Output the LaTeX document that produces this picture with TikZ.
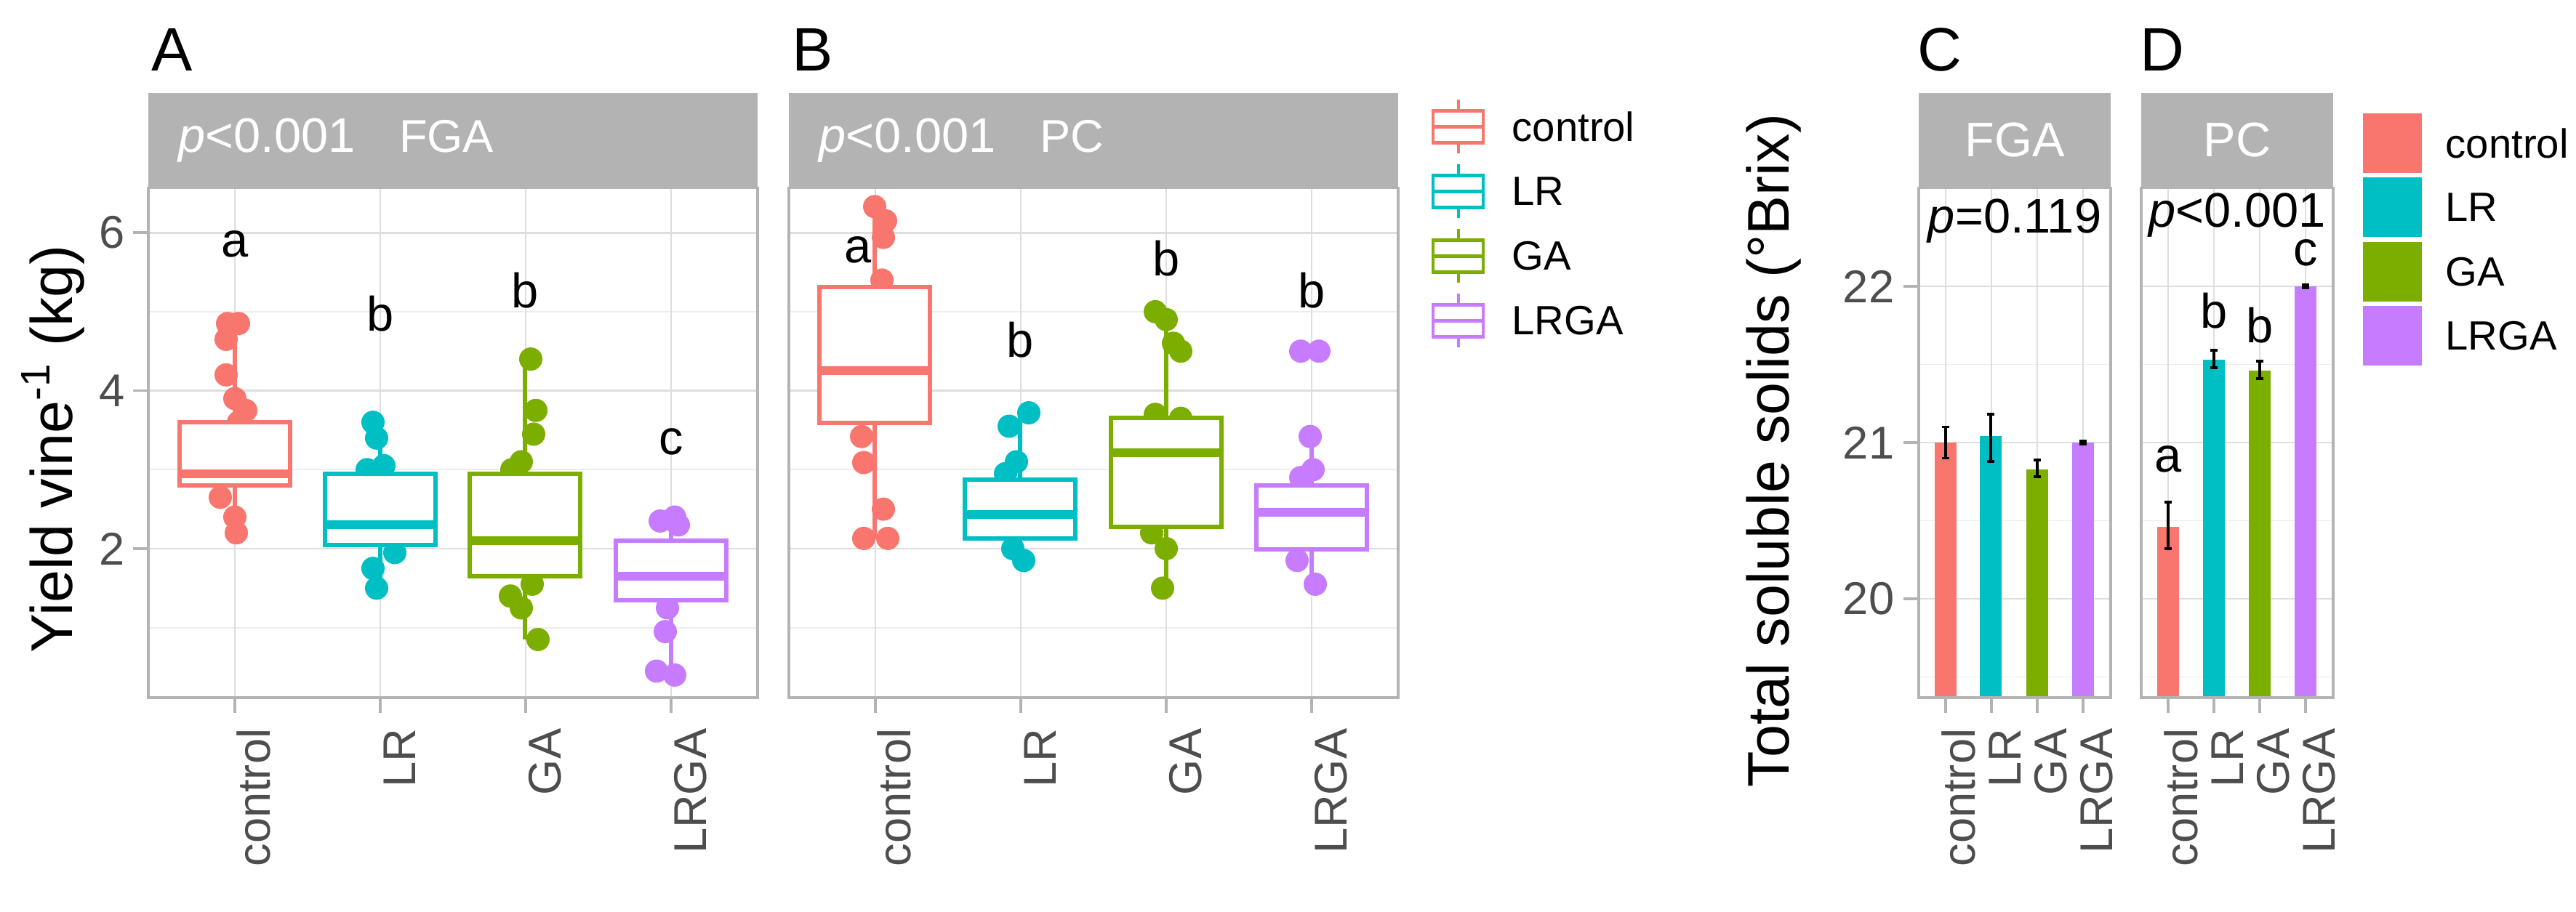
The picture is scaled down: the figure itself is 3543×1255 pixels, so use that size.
\documentclass[tikz,border=0pt]{standalone}
\usepackage{fontspec}
\setmainfont{Liberation Sans}
\definecolor{cctl}{HTML}{F8766D}
\definecolor{clr}{HTML}{00BFC4}
\definecolor{cga}{HTML}{7CAE00}
\definecolor{clrga}{HTML}{C77CFF}
\definecolor{gmaj}{HTML}{DEDEDE}
\definecolor{gmin}{HTML}{EDEDED}
\definecolor{gframe}{HTML}{B3B3B3}
\definecolor{gtick}{HTML}{4D4D4D}
% y position in the yield panels and in the brix panels
\newcommand\yy[1]{972.4-108.7*#1}
\newcommand\yb[1]{609-215*(#1-21)}
% box plot: x, low, q1, median, q3, high, colour
\newcommand\bxp[7]{%
  \draw[#7,line width=1.7pt] (#1,{\yy{#2}}) -- (#1,{\yy{#6}});
  \draw[#7,line width=1.7pt,fill=white] ({#1-76},{\yy{#3}}) rectangle ({#1+76},{\yy{#5}});
  \draw[#7,line width=3.4pt] ({#1-74},{\yy{#4}}) -- ({#1+74},{\yy{#4}});}
% bar with error bar: x, value, low, high, colour
\newcommand\brr[5]{%
  \fill[#5] ({#1-15},960) rectangle ({#1+15},{\yb{#2}});
  \draw[black,line width=1.1pt] (#1,{\yb{#3}}) -- (#1,{\yb{#4}});
  \draw[black,line width=1.1pt] ({#1-5},{\yb{#3}}) -- ({#1+5},{\yb{#3}}) ({#1-5},{\yb{#4}}) -- ({#1+5},{\yb{#4}});}
\begin{document}
\begin{tikzpicture}[x=0.1mm,y=-0.1mm,
    ticklab/.style={font=\fontsize{18}{20}\selectfont,text=gtick},
    xlab/.style={ticklab,rotate=90,anchor=base east,inner sep=0pt},
    ylab/.style={ticklab,anchor=east,inner sep=0pt},
    strip/.style={fill=gframe,draw=none},
    striptext/.style={font=\fontsize{19}{21}\selectfont,text=white,inner sep=0pt},
    letter/.style={font=\fontsize{19}{21}\selectfont,inner sep=0pt},
    panel/.style={font=\fontsize{24}{26}\selectfont,inner sep=0pt,anchor=base west},
    legtext/.style={font=\fontsize{16}{18}\selectfont,anchor=west,inner sep=0pt},
    major/.style={gmaj,line width=0.8pt},
    minor/.style={gmin,line width=0.5pt},
    pt/.style={radius=1.6mm}]
\useasboundingbox (0,0) rectangle (3543,1255);

% ---- panels A and B ----
\foreach \px/\lab/\site in {204/A/FGA,1085/B/PC}{
  \foreach \v in {1,3,5} \draw[minor] (\px,{\yy{\v}}) -- ({\px+838},{\yy{\v}});
  \foreach \v in {2,4,6} \draw[major] (\px,{\yy{\v}}) -- ({\px+838},{\yy{\v}});
  \foreach \c/\t in {119/control,319/LR,519/GA,719/LRGA}{
    \draw[major] ({\px+\c},258.5) -- ({\px+\c},960);
    \draw[gframe,line width=1pt] ({\px+\c},960) -- ({\px+\c},981);
    \node[xlab] (x\lab\t) at ({\px+\c+48},1002) {\t};}
  \fill[strip] (\px,128) rectangle ({\px+838},258.5);
  \node[striptext,anchor=west] (s\lab) at ({\px+41},193) {\textit{p}<0.001\hspace{0.9em}{\fontsize{18}{20}\selectfont\site}};
  \node[panel] (p\lab) at ({\px+4},98) {\lab};
}
\foreach \v in {2,4,6}{
  \draw[gframe,line width=1pt] (183,{\yy{\v}}) -- (204,{\yy{\v}});
  \node[ylab] (yt\v) at (172,{\yy{\v}}) {\v};}

% points A
\foreach \dx/\v in {-10/4.85,5/4.85,-12/4.65,-12/4.2,0/3.9,15/3.75,5/3.6,-20/2.65,0/2.4,2/2.2,-5/3.0}
  \fill[cctl] ({323+\dx},{\yy{\v}}) circle[pt];
\foreach \dx/\v in {-10/3.6,-5/3.4,5/3.05,-18/3.0,20/1.95,-10/1.75,-5/1.5}
  \fill[clr] ({523+\dx},{\yy{\v}}) circle[pt];
\foreach \dx/\v in {8/4.4,15/3.75,12/3.45,-5/3.1,-18/3.0,10/1.55,-20/1.4,-5/1.25,18/0.85}
  \fill[cga] ({722+\dx},{\yy{\v}}) circle[pt];
\foreach \dx/\v in {-15/2.35,5/2.4,10/2.3,-5/1.25,-8/0.95,-20/0.45,5/0.4}
  \fill[clrga] ({923+\dx},{\yy{\v}}) circle[pt];
\bxp{323}{2.15}{2.8}{2.95}{3.6}{4.85}{cctl}
\bxp{523}{1.45}{2.05}{2.3}{2.95}{3.6}{clr}
\bxp{722}{0.85}{1.65}{2.1}{2.95}{4.4}{cga}
\bxp{923}{0.4}{1.35}{1.65}{2.1}{2.4}{clrga}

% points B
\foreach \dx/\v in {0/6.33,15/6.15,12/5.94,10/5.4,-18/3.42,-15/3.09,12/2.5,-15/2.13,18/2.13}
  \fill[cctl] ({1203+\dx},{\yy{\v}}) circle[pt];
\foreach \dx/\v in {12/3.72,-15/3.55,-5/3.1,-20/2.95,-10/2.0,5/1.85}
  \fill[clr] ({1403+\dx},{\yy{\v}}) circle[pt];
\foreach \dx/\v in {-15/5.0,0/4.9,10/4.6,20/4.5,-15/3.7,20/3.65,-20/2.2,0/2.0,-5/1.5}
  \fill[cga] ({1604+\dx},{\yy{\v}}) circle[pt];
\foreach \dx/\v in {-15/4.5,10/4.5,-2/3.42,2/3.0,-15/2.9,-20/1.85,5/1.55}
  \fill[clrga] ({1804+\dx},{\yy{\v}}) circle[pt];
\bxp{1203}{2.13}{3.59}{4.25}{5.31}{6.33}{cctl}
\bxp{1403}{1.8}{2.13}{2.43}{2.87}{3.72}{clr}
\bxp{1604}{1.5}{2.28}{3.21}{3.66}{5.04}{cga}
\bxp{1804}{1.5}{1.99}{2.46}{2.8}{3.42}{clrga}

\foreach \x/\y/\t [count=\i] in {323/336/a,523/432/b,722/400/b,923/608/c,1180/344/a,1403/468/b,1604/356/b,1804/400/b}
  \node[letter] (lt\i) at (\x,\y) {\t};
\draw[gframe,line width=1pt] (204,258.5) rectangle (1042,960) (1085,258.5) rectangle (1923,960);
\node[rotate=90,font=\fontsize{23}{25}\selectfont] (ytitle) at (73,618) {Yield vine\textsuperscript{-1} (kg)};

% legend of the box plots
\foreach \col/\t [count=\i] in {cctl/control,clr/LR,cga/GA,clrga/LRGA}{
  \pgfmathsetmacro\ly{174.5+89*(\i-1)}
  \draw[\col,line width=1.2pt] (2006,{\ly-37}) -- (2006,{\ly+37});
  \draw[\col,line width=1.2pt,fill=white] (1971,{\ly-22}) rectangle (2040,{\ly+22});
  \draw[\col,line width=1.2pt] (1971,\ly) -- (2040,\ly);
  \node[legtext] (lb\i) at (2079,\ly) {\t};}

% ---- panels C and D ----
\foreach \px/\lab/\site in {2639/C/FGA,2945/D/PC}{
  \foreach \v in {19.5,20.5,21.5} \draw[minor] (\px,{\yb{\v}}) -- ({\px+264},{\yb{\v}});
  \foreach \v in {20,21,22} \draw[major] (\px,{\yb{\v}}) -- ({\px+264},{\yb{\v}});
  \foreach \c/\t in {37/control,100/LR,163/GA,226/LRGA}{
    \draw[major] ({\px+\c},258.5) -- ({\px+\c},960);
    \draw[gframe,line width=1pt] ({\px+\c},960) -- ({\px+\c},981);
    \node[xlab] (x\lab\t) at ({\px+\c+40},1002) {\t};}
  \fill[strip] (\px,128) rectangle ({\px+264},258.5);
  \node[striptext] (s\lab) at ({\px+132},193) {\site};
  \node[panel] (p\lab) at ({\px-2},98) {\lab};
}
\foreach \v in {20,21,22}{
  \draw[gframe,line width=1pt] (2618,{\yb{\v}}) -- (2639,{\yb{\v}});
  \node[ylab] (yb\v) at (2606,{\yb{\v}}) {\v};}
\brr{2676}{21.0}{20.9}{21.1}{cctl}
\brr{2738}{21.04}{20.88}{21.18}{clr}
\brr{2802}{20.83}{20.78}{20.89}{cga}
\brr{2865}{21.0}{20.99}{21.01}{clrga}
\brr{2982}{20.46}{20.32}{20.62}{cctl}
\brr{3045}{21.53}{21.48}{21.59}{clr}
\brr{3108}{21.46}{21.41}{21.52}{cga}
\brr{3171}{22.0}{21.99}{22.01}{clrga}
\draw[gframe,line width=1pt] (2639,258.5) rectangle (2903,960) (2945,258.5) rectangle (3209,960);
\node[letter] (pC) at (2771,304) {\textit{p}=0.119};
\node[letter] (pD) at (3077,296) {\textit{p}<0.001};
\foreach \x/\y/\t [count=\i] in {2982/632/a,3045/428/b,3108/448/b,3171/348/c}
  \node[letter] (lb\i d) at (\x,\y) {\t};
\node[rotate=90,font=\fontsize{23}{25}\selectfont] (btitle) at (2440,620) {Total soluble solids (°Brix)};

% legend of the bars
\foreach \col/\t [count=\i] in {cctl/control,clr/LR,cga/GA,clrga/LRGA}{
  \pgfmathsetmacro\ly{197+88.5*(\i-1)}
  \fill[\col] (3250,{\ly-41}) rectangle (3331,{\ly+41});
  \node[legtext] (lg\i) at (3363,\ly) {\t};}
\end{tikzpicture}
\end{document}
